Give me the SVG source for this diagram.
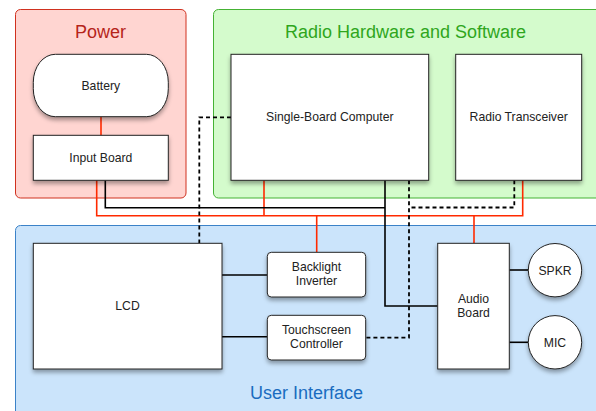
<svg xmlns="http://www.w3.org/2000/svg" width="596" height="411" viewBox="0 0 596 411">
<defs>
<filter id="sh" x="-20%" y="-20%" width="140%" height="140%">
<feDropShadow dx="0" dy="3" stdDeviation="2" flood-color="#000" flood-opacity="0.35"/>
</filter>
</defs>
<style>
.node{fill:#fff;stroke:#222;stroke-width:1;filter:url(#sh)}
.t{font-family:"Liberation Sans",Arial,sans-serif;font-size:12.2px;fill:#222;text-anchor:middle}
.gt{font-family:"Liberation Sans",Arial,sans-serif;font-size:18px;text-anchor:middle}
.red{fill:none;stroke:#ff2a00;stroke-width:1.6}
.blk{fill:none;stroke:#000;stroke-width:1.6}
.dash{fill:none;stroke:#000;stroke-width:1.8;stroke-dasharray:4,3}
</style>
<g id="group-power">
<rect x="15.5" y="9.5" width="170.5" height="188.5" rx="5" fill="#ffd5d1" stroke="#d0311f"/>
<text class="gt" x="100.5" y="37.5" fill="#b5241a">Power</text>
</g>
<g id="group-radio">
<rect x="213.5" y="9.5" width="390" height="188.5" rx="5" fill="#d4fbcc" stroke="#45b234"/>
<text class="gt" x="405.5" y="37.5" fill="#2fa61d">Radio Hardware and Software</text>
</g>
<g id="group-ui">
<rect x="15.5" y="225.5" width="600" height="200" rx="5" fill="#cbe4fb" stroke="#3b82c8"/>
<text class="gt" x="306.5" y="398.5" fill="#1a6cc0">User Interface</text>
</g>
<g id="connectors">
<path class="red" d="M101,117 V135.3"/>
<path class="red" d="M96.7,180.3 V215.7 H522.7 V180.3"/>
<path class="red" d="M264,180.3 V215.7"/>
<path class="red" d="M316.7,215.7 V252.3"/>
<path class="red" d="M474,215.7 V243.3"/>
<path class="blk" d="M105.3,180.3 V207.7 H385"/>
<path class="blk" d="M385,180.3 V306 H437.7"/>
<path class="blk" d="M222,275 H267.3"/>
<path class="blk" d="M222,336.7 H267.3"/>
<path class="blk" d="M509.3,270 H528.3"/>
<path class="blk" d="M509.3,342.3 H528.3"/>
<path class="dash" d="M231,117.3 H199.3 V243.3"/>
<path class="dash" d="M409,180.3 V337.7 H365.7"/>
<path class="dash" d="M514.3,180.3 V207.5 H409"/>
</g>
<g id="battery">
<rect class="node" x="33.3" y="54.3" width="135" height="62.4" rx="22" ry="28"/>
<text class="t" x="100.8" y="89.5">Battery</text>
</g>
<g id="input-board">
<rect class="node" x="33.3" y="135.3" width="135" height="45"/>
<text class="t" x="100.8" y="161.8">Input Board</text>
</g>
<g id="sbc">
<rect class="node" x="231" y="54.3" width="197.7" height="126"/>
<text class="t" x="329.8" y="121.3">Single-Board Computer</text>
</g>
<g id="radio-transceiver">
<rect class="node" x="455.7" y="54.3" width="126" height="126"/>
<text class="t" x="518.7" y="121.3">Radio Transceiver</text>
</g>
<g id="lcd">
<rect class="node" x="33.3" y="243.3" width="188.7" height="125.7"/>
<text class="t" x="127.5" y="310.3">LCD</text>
</g>
<g id="backlight-inverter">
<rect class="node" x="267.3" y="252.3" width="98.4" height="44.7" rx="4"/>
<text class="t" x="316.5" y="271">Backlight</text>
<text class="t" x="316.5" y="284.8">Inverter</text>
</g>
<g id="touchscreen-controller">
<rect class="node" x="267.3" y="315.3" width="98.4" height="44.7" rx="4"/>
<text class="t" x="316.5" y="334.3">Touchscreen</text>
<text class="t" x="316.5" y="347.8">Controller</text>
</g>
<g id="audio-board">
<rect class="node" x="437.7" y="243.3" width="71.6" height="125.7"/>
<text class="t" x="473.5" y="303">Audio</text>
<text class="t" x="473.5" y="317">Board</text>
</g>
<g id="spkr">
<circle class="node" cx="555" cy="270.2" r="26.7"/>
<text class="t" x="555" y="274.5">SPKR</text>
</g>
<g id="mic">
<circle class="node" cx="555" cy="342.3" r="26.7"/>
<text class="t" x="555" y="346.6">MIC</text>
</g>
</svg>
